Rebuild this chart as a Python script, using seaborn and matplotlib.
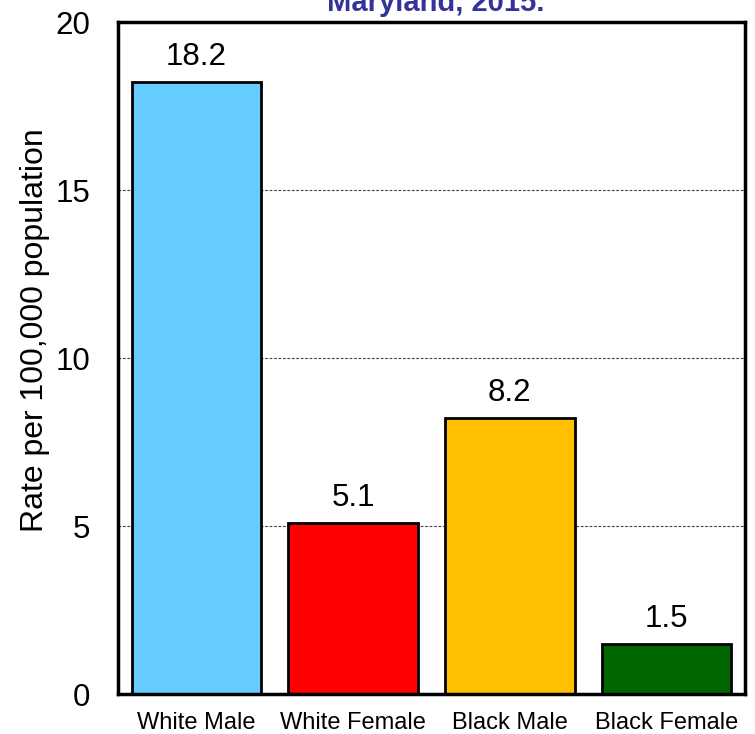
import matplotlib
matplotlib.use("Agg")
import matplotlib.pyplot as plt
import seaborn as sns
import pandas as pd

categories = ["White Male", "White Female", "Black Male", "Black Female"]
rates = [18.2, 5.1, 8.2, 1.5]
colors = ["#66CCFF", "#FF0000", "#FFC000", "#006600"]
yticks = [0, 5, 10, 15, 20]

sns.set_style("white")
plt.rcParams['font.family'] = ['Liberation Sans', 'DejaVu Sans']
plt.rcParams['text.color'] = 'black'
plt.rcParams['axes.labelcolor'] = 'black'
plt.rcParams['xtick.color'] = 'black'
plt.rcParams['ytick.color'] = 'black'

df = pd.DataFrame({"group": categories, "rate": rates})

fig = plt.figure(figsize=(7.55, 7.34), dpi=100)
ax = fig.add_axes([118/755, 1 - 694/734, (745-118)/755, (694-22)/734])

sns.barplot(data=df, x="group", y="rate", hue="group", palette=colors,
            legend=False, ax=ax, width=0.825, edgecolor="black", linewidth=2,
            saturation=1)

ax.set_ylim(0, 20)
ax.set_xlim(-0.5, 3.5)
ax.set_yticks(yticks)
ax.set_yticklabels([str(t) for t in yticks], fontsize=22.5)
ax.tick_params(axis='y', length=0, pad=20)
ax.tick_params(axis='x', length=0, pad=13, labelsize=17)
for t in yticks[1:-1]:
    ax.axhline(t, color="#444444", linestyle=(0, (2.5, 1.5)), linewidth=0.8, zorder=0)
ax.set_xlabel("")
ax.set_ylabel("Rate per 100,000 population", fontsize=23)
ax.yaxis.set_label_coords(-0.108, 0.542)
for s in ax.spines.values():
    s.set_visible(True)
    s.set_linewidth(2.5)
    s.set_color("black")

for i, v in enumerate(rates):
    ax.text(i, v + 0.3, f"{v}", ha="center", va="bottom", fontsize=22.5)

fig.text(436/755, 1 - 11/734, "Maryland, 2015.", ha="center", va="baseline",
         fontsize=21, fontweight="bold", color="#333399")

fig.savefig("out.png", dpi=100)
